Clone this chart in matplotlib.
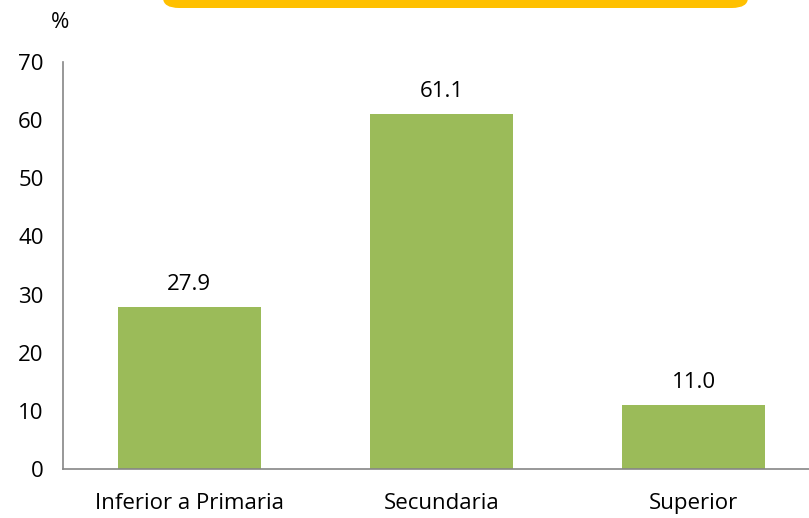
import matplotlib.pyplot as plt
from matplotlib.patches import FancyBboxPatch

categories = ['Inferior a Primaria', 'Secundaria', 'Superior']
values = [27.9, 61.1, 11.0]
yticks = [0, 10, 20, 30, 40, 50, 60, 70]

plt.rcParams['font.family'] = ['Open Sans', 'DejaVu Sans']

W, H = 809, 518
fig = plt.figure(figsize=(W / 100, H / 100), dpi=100)
ax = fig.add_axes([63 / W, 1 - 469 / H, (820 - 63) / W, (469 - 62) / H])

x = range(len(categories))
ax.bar(x, values, width=0.567, color='#9BBB59')
for i, v in enumerate(values):
    ax.text(i, v + 2, f'{v:.1f}', ha='center', va='bottom', fontsize=16)

ax.set_xlim(-0.5, 2.5)
ax.set_ylim(0, 70)
ax.set_yticks(yticks)
ax.set_xticks(list(x))
ax.set_xticklabels(categories)
ax.tick_params(axis='both', length=0, labelsize=16)
ax.tick_params(axis='y', pad=14)
ax.tick_params(axis='x', pad=17)
for s in ['top', 'right']:
    ax.spines[s].set_visible(False)
for s in ['left', 'bottom']:
    ax.spines[s].set_color('#868686')
    ax.spines[s].set_linewidth(1.2)

fig.text(60 / W, 1 - 22 / H, '%', ha='center', va='center', fontsize=16)

# yellow banner at the top (cut off)
box = FancyBboxPatch((163 / W, 1 - 8 / H), (748 - 163) / W, 0.1,
                     boxstyle='round,pad=0,rounding_size=0.02',
                     transform=fig.transFigure, facecolor='#FFC000',
                     edgecolor='none', clip_on=False)
fig.patches.append(box)

fig.savefig('out.png', dpi=100)
